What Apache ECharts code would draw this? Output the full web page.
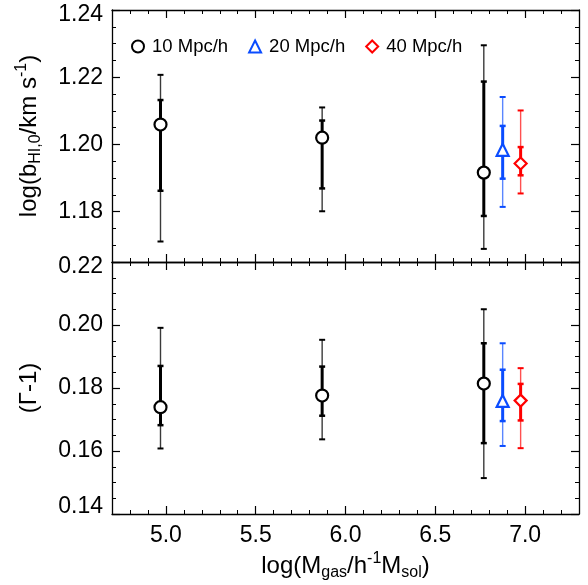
<!DOCTYPE html>
<html>
<head>
<meta charset="utf-8">
<script src="https://cdn.jsdelivr.net/npm/echarts@6/dist/echarts.min.js"></script>
<style>html,body{margin:0;padding:0;background:#fff}#c{width:588px;height:585px}</style>
</head>
<body>
<div id="c"></div>
<script>
// ---- data ----
const legendNames = ['10 Mpc/h', '20 Mpc/h', '40 Mpc/h'];
const x10 = [4.97, 5.87, 6.77];
const x20 = [6.875];
const x40 = [6.975];

// top panel: log(b_HI,0)
const b10 = [1.2059, 1.2020, 1.1916];
const b10ThickLo = [1.1862, 1.1869, 1.1787];
const b10ThickHi = [1.2132, 1.2071, 1.2187];
const b10ThinLo = [1.1711, 1.1801, 1.1689];
const b10ThinHi = [1.2207, 1.2110, 1.2295];
const b20 = [1.1984];
const b20ThickLo = [1.1898];
const b20ThickHi = [1.2055];
const b20ThinLo = [1.1814];
const b20ThinHi = [1.2141];
const b40 = [1.1943];
const b40ThickLo = [1.1908];
const b40ThickHi = [1.1992];
const b40ThinLo = [1.1854];
const b40ThinHi = [1.2101];

// bottom panel: (Gamma-1)
const g10 = [0.1739, 0.1776, 0.1814];
const g10ThickLo = [0.1682, 0.1712, 0.1625];
const g10ThickHi = [0.1870, 0.1868, 0.1942];
const g10ThinLo = [0.1608, 0.1637, 0.1514];
const g10ThinHi = [0.1991, 0.1953, 0.2050];
const g20 = [0.1759];
const g20ThickLo = [0.1695];
const g20ThickHi = [0.1858];
const g20ThinLo = [0.1616];
const g20ThinHi = [0.1942];
const g40 = [0.1760];
const g40ThickLo = [0.1697];
const g40ThickHi = [0.1813];
const g40ThinLo = [0.1609];
const g40ThinHi = [0.1863];

// axes
const xMin = 4.7, xMax = 7.3;
const xTicks = [5.0, 5.5, 6.0, 6.5, 7.0];
const topMin = 1.165, topMax = 1.24;
const topTicks = [1.18, 1.20, 1.22, 1.24];
const botMin = 0.14, botMax = 0.22;
const botTicks = [0.14, 0.16, 0.18, 0.20, 0.22];

// ---- chart ----
const FONT = '"Liberation Sans", Arial, Helvetica, sans-serif';
const BLACK = '#000000', BLUE = '#0a4cff', RED = '#ff0000';
const THIN = { '#000000': '#3a3a3a', '#0a4cff': '#5a86ff', '#ff0000': '#ff5050' };

function rows(x, y, tkl, tkh, tnl, tnh) {
  return x.map((v, i) => [v, y[i], tkl[i], tkh[i], tnl[i], tnh[i]]);
}

function errRender(color) {
  return function (params, api) {
    const x = api.value(0);
    const thickLo = api.coord([x, api.value(2)]);
    const thickHi = api.coord([x, api.value(3)]);
    const thinLo = api.coord([x, api.value(4)]);
    const thinHi = api.coord([x, api.value(5)]);
    const cx = thickLo[0];
    const cap = 3;
    const seg = (y1, y2, w, c) => ({ type: 'line', shape: { x1: cx, y1: y1, x2: cx, y2: y2 }, style: { stroke: c, lineWidth: w } });
    const capLine = (y, w, c) => ({ type: 'line', shape: { x1: cx - cap, y1: y, x2: cx + cap, y2: y }, style: { stroke: c, lineWidth: w } });
    return {
      type: 'group',
      children: [
        seg(thinLo[1], thinHi[1], 1.4, THIN[color]),
        seg(thickLo[1], thickHi[1], 3, color),
        capLine(thinLo[1], 2, color),
        capLine(thinHi[1], 2, color),
        capLine(thickLo[1], 2.5, color),
        capLine(thickHi[1], 2.5, color)
      ]
    };
  };
}

const NAME_STYLE = {
  color: '#000', fontSize: 24, fontFamily: FONT, lineHeight: 30,
  rich: {
    sub: { fontSize: 16, fontFamily: FONT, color: '#000', verticalAlign: 'bottom', lineHeight: 15 },
    sup: { fontSize: 16, fontFamily: FONT, color: '#000', verticalAlign: 'top', lineHeight: 15 }
  }
};

const AX = { lineStyle: { color: '#000', width: 1.3 } };
function xAxes(grid, showLabels) {
  const base = { type: 'value', gridIndex: grid, min: xMin, max: xMax, splitLine: { show: false } };
  const arr = [];
  ['bottom', 'top'].forEach(pos => {
    arr.push(Object.assign({}, base, {
      position: pos,
      axisLine: Object.assign({ show: true, onZero: false }, AX),
      axisTick: { show: true, inside: true, length: 8, customValues: xTicks, lineStyle: { color: '#000', width: 1.2 } },
      axisLabel: (showLabels && pos === 'bottom') ? {
        show: true, customValues: xTicks, margin: 10, color: '#000', fontSize: 23, fontFamily: FONT,
        formatter: v => v.toFixed(1)
      } : { show: false },
      name: (showLabels && pos === 'bottom') ? 'log(M{sub|gas}/h{sup|-1}M{sub|sol})' : '',
      nameLocation: 'middle', nameGap: 37,
      nameTextStyle: NAME_STYLE
    }));
    arr.push(Object.assign({}, base, {
      position: pos,
      interval: 0.1,
      axisLine: { show: false, onZero: false },
      axisTick: { show: true, inside: true, length: 4, lineStyle: { color: '#000', width: 1 } },
      axisLabel: { show: false }
    }));
  });
  return arr;
}

function yAxes(grid, min, max, ticks, name) {
  const base = { type: 'value', gridIndex: grid, min: min, max: max, splitLine: { show: false } };
  const arr = [];
  ['left', 'right'].forEach(pos => {
    arr.push(Object.assign({}, base, {
      position: pos,
      axisLine: Object.assign({ show: true, onZero: false }, AX),
      axisTick: { show: true, inside: true, length: 8, customValues: ticks, lineStyle: { color: '#000', width: 1.2 } },
      axisLabel: pos === 'left' ? {
        show: true, customValues: ticks, margin: 9, color: '#000', fontSize: 23, fontFamily: FONT,
        formatter: v => {
          const s = v.toFixed(2);
          if (Math.abs(v - max) < 1e-9) return '{hi|' + s + '}';
          if (Math.abs(v - min) < 1e-9) return '{lo|' + s + '}';
          return s;
        },
        rich: {
          hi: { fontSize: 23, fontFamily: FONT, color: '#000', padding: [10, 0, 0, 0] },
          lo: { fontSize: 23, fontFamily: FONT, color: '#000', padding: [0, 0, 14, 0] }
        }
      } : { show: false },
      name: pos === 'left' ? name : '',
      nameLocation: 'middle', nameGap: 68, nameRotate: 90,
      nameTextStyle: NAME_STYLE
    }));
    arr.push(Object.assign({}, base, {
      position: pos,
      interval: 0.005,
      axisLine: { show: false, onZero: false },
      axisTick: { show: true, inside: true, length: 4, lineStyle: { color: '#000', width: 1 } },
      axisLabel: { show: false }
    }));
  });
  return arr;
}

const symbols = { '10 Mpc/h': ['circle', 12, BLACK], '20 Mpc/h': ['triangle', 12, BLUE], '40 Mpc/h': ['diamond', 12, RED] };

function scatter(name, xi, yi, x, y) {
  const s = symbols[name];
  return {
    type: 'scatter', name: name, xAxisIndex: xi, yAxisIndex: yi, z: 5,
    symbol: s[0], symbolSize: s[1],
    itemStyle: { color: '#fff', borderColor: s[2], borderWidth: 2.2, opacity: 1 },
    data: x.map((v, i) => [v, y[i]])
  };
}
function errs(xi, yi, color, data) {
  return { type: 'custom', name: 'err', xAxisIndex: xi, yAxisIndex: yi, z: 3, renderItem: errRender(color), data: data, encode: { x: 0, y: 1 } };
}

const option = {
  animation: false,
  backgroundColor: '#fff',
  grid: [
    { left: 112, top: 10, width: 467, height: 252 },
    { left: 112, top: 262, width: 467, height: 252 }
  ],
  legend: {
    data: legendNames.map(n => ({ name: n })),
    left: 126, top: 32, itemWidth: 12, itemHeight: 12, itemGap: 20,
    textStyle: { fontSize: 18.5, fontFamily: FONT, color: '#000', padding: [0, 0, 0, 3] },
    selectedMode: false
  },
  xAxis: xAxes(0, false).concat(xAxes(1, true)),
  yAxis: yAxes(0, topMin, topMax, topTicks, 'log(b{sub|HI,0}/km s{sup|-1})')
    .concat(yAxes(1, botMin, botMax, botTicks, '(Γ-1)')),
  series: [
    errs(0, 0, BLACK, rows(x10, b10, b10ThickLo, b10ThickHi, b10ThinLo, b10ThinHi)),
    errs(0, 0, BLUE, rows(x20, b20, b20ThickLo, b20ThickHi, b20ThinLo, b20ThinHi)),
    errs(0, 0, RED, rows(x40, b40, b40ThickLo, b40ThickHi, b40ThinLo, b40ThinHi)),
    errs(4, 4, BLACK, rows(x10, g10, g10ThickLo, g10ThickHi, g10ThinLo, g10ThinHi)),
    errs(4, 4, BLUE, rows(x20, g20, g20ThickLo, g20ThickHi, g20ThinLo, g20ThinHi)),
    errs(4, 4, RED, rows(x40, g40, g40ThickLo, g40ThickHi, g40ThinLo, g40ThinHi)),
    scatter('10 Mpc/h', 0, 0, x10, b10),
    scatter('20 Mpc/h', 0, 0, x20, b20),
    scatter('40 Mpc/h', 0, 0, x40, b40),
    scatter('10 Mpc/h', 4, 4, x10, g10),
    scatter('20 Mpc/h', 4, 4, x20, g20),
    scatter('40 Mpc/h', 4, 4, x40, g40)
  ]
};

const chart = echarts.init(document.getElementById('c'), null, { renderer: 'canvas' });
chart.setOption(option);
</script>
</body>
</html>
